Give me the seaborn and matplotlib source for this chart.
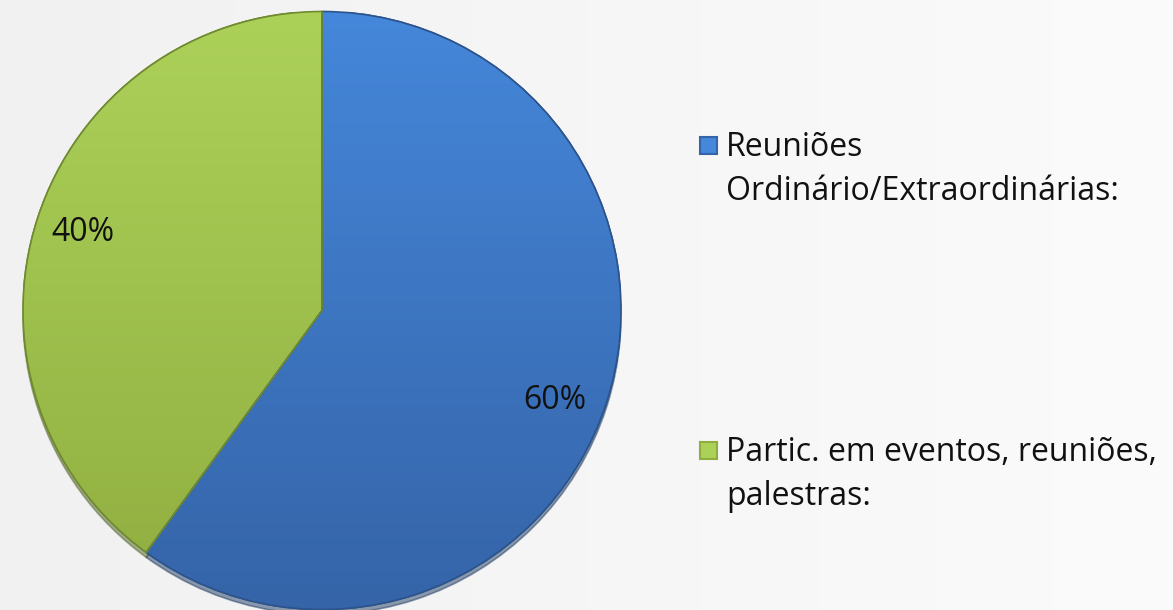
import matplotlib
matplotlib.use("Agg")
import numpy as np
import matplotlib.pyplot as plt
from matplotlib.patches import Rectangle, Wedge
from matplotlib.colors import LinearSegmentedColormap
from matplotlib.transforms import offset_copy
import seaborn as sns

# data
labels = ["Reuniões\nOrdinário/Extraordinárias:", "Partic. em eventos, reuniões,\npalestras:"]
values = [60, 40]
colors = ["#3d78c8", "#a3c64f"]
top_colors = ["#4587da", "#acd159"]
bottom_colors = ["#3564a8", "#90ae40"]
edge_colors = ["#2c548c", "#6f8a30"]

sns.set_theme(style="white")
plt.rcParams["font.family"] = ["Open Sans", "DejaVu Sans"]

fig = plt.figure(figsize=(11.73, 6.10), dpi=100)

# soft grey background, slightly lighter to the right
bg = fig.add_axes([0, 0, 1, 1], zorder=-10)
grad = np.linspace(0, 1, 256)[None, :]
bg.imshow(grad, aspect="auto", extent=[0, 1, 0, 1],
          cmap=LinearSegmentedColormap.from_list("bg", ["#f1f1f1", "#fbfbfb"]))
bg.axis("off")

ax = fig.add_axes([23 / 1173, 0.5 / 610, 598 / 1173, 598 / 610])
ax.set_facecolor("none")

wedges, texts, autotexts = ax.pie(
    values, colors=colors, startangle=90, counterclock=False,
    autopct="%1.0f%%", pctdistance=0.84,
    wedgeprops={"linewidth": 1.2, "edgecolor": "#3a4a5a"},
    textprops={"fontsize": 23, "color": "#111111"},
    shadow={"ox": 0.0, "oy": -0.012, "shade": 0.5},
)
# vertical shading inside each slice
ygrad = np.linspace(1, 0, 256)[:, None]
for w, top, bot, ec in zip(wedges, top_colors, bottom_colors, edge_colors):
    w.set_edgecolor(ec)
    cmap = LinearSegmentedColormap.from_list("s", [bot, top])
    im = ax.imshow(ygrad, extent=[-1, 1, -1, 1], cmap=cmap, aspect="auto",
                   zorder=w.get_zorder() + 0.1)
    im.set_clip_path(w)
for w in wedges:
    ax.add_patch(Wedge(w.center, w.r, w.theta1, w.theta2, facecolor="none",
                       edgecolor=w.get_edgecolor(), linewidth=1.2, zorder=5))
for t in autotexts:
    t.set_zorder(6)
# nudge the 60% label a little lower, like the original
autotexts[0].set_transform(offset_copy(autotexts[0].get_transform(), fig=fig,
                                       x=-6, y=-12, units="dots"))
ax.set_xlim(-1.0, 1.0)
ax.set_ylim(-1.0, 1.0)
ax.set_aspect("equal")
ax.axis("off")

# legend drawn by hand so the marker sits on the first text line
mark_y = [145, 450]
for lab, top, bot, ec, y in zip(labels, top_colors, bottom_colors, edge_colors, mark_y):
    fig.patches.append(Rectangle((700 / 1173, 1 - (y + 9) / 610), 17 / 1173, 17 / 610,
                                 transform=fig.transFigure, facecolor=top,
                                 edgecolor=bot, linewidth=1.5))
    fig.text(726 / 1173, 1 - (y - 14) / 610, lab, fontsize=23, color="#111111",
             va="top", ha="left", linespacing=1.45)

fig.savefig("out.png", dpi=100)
